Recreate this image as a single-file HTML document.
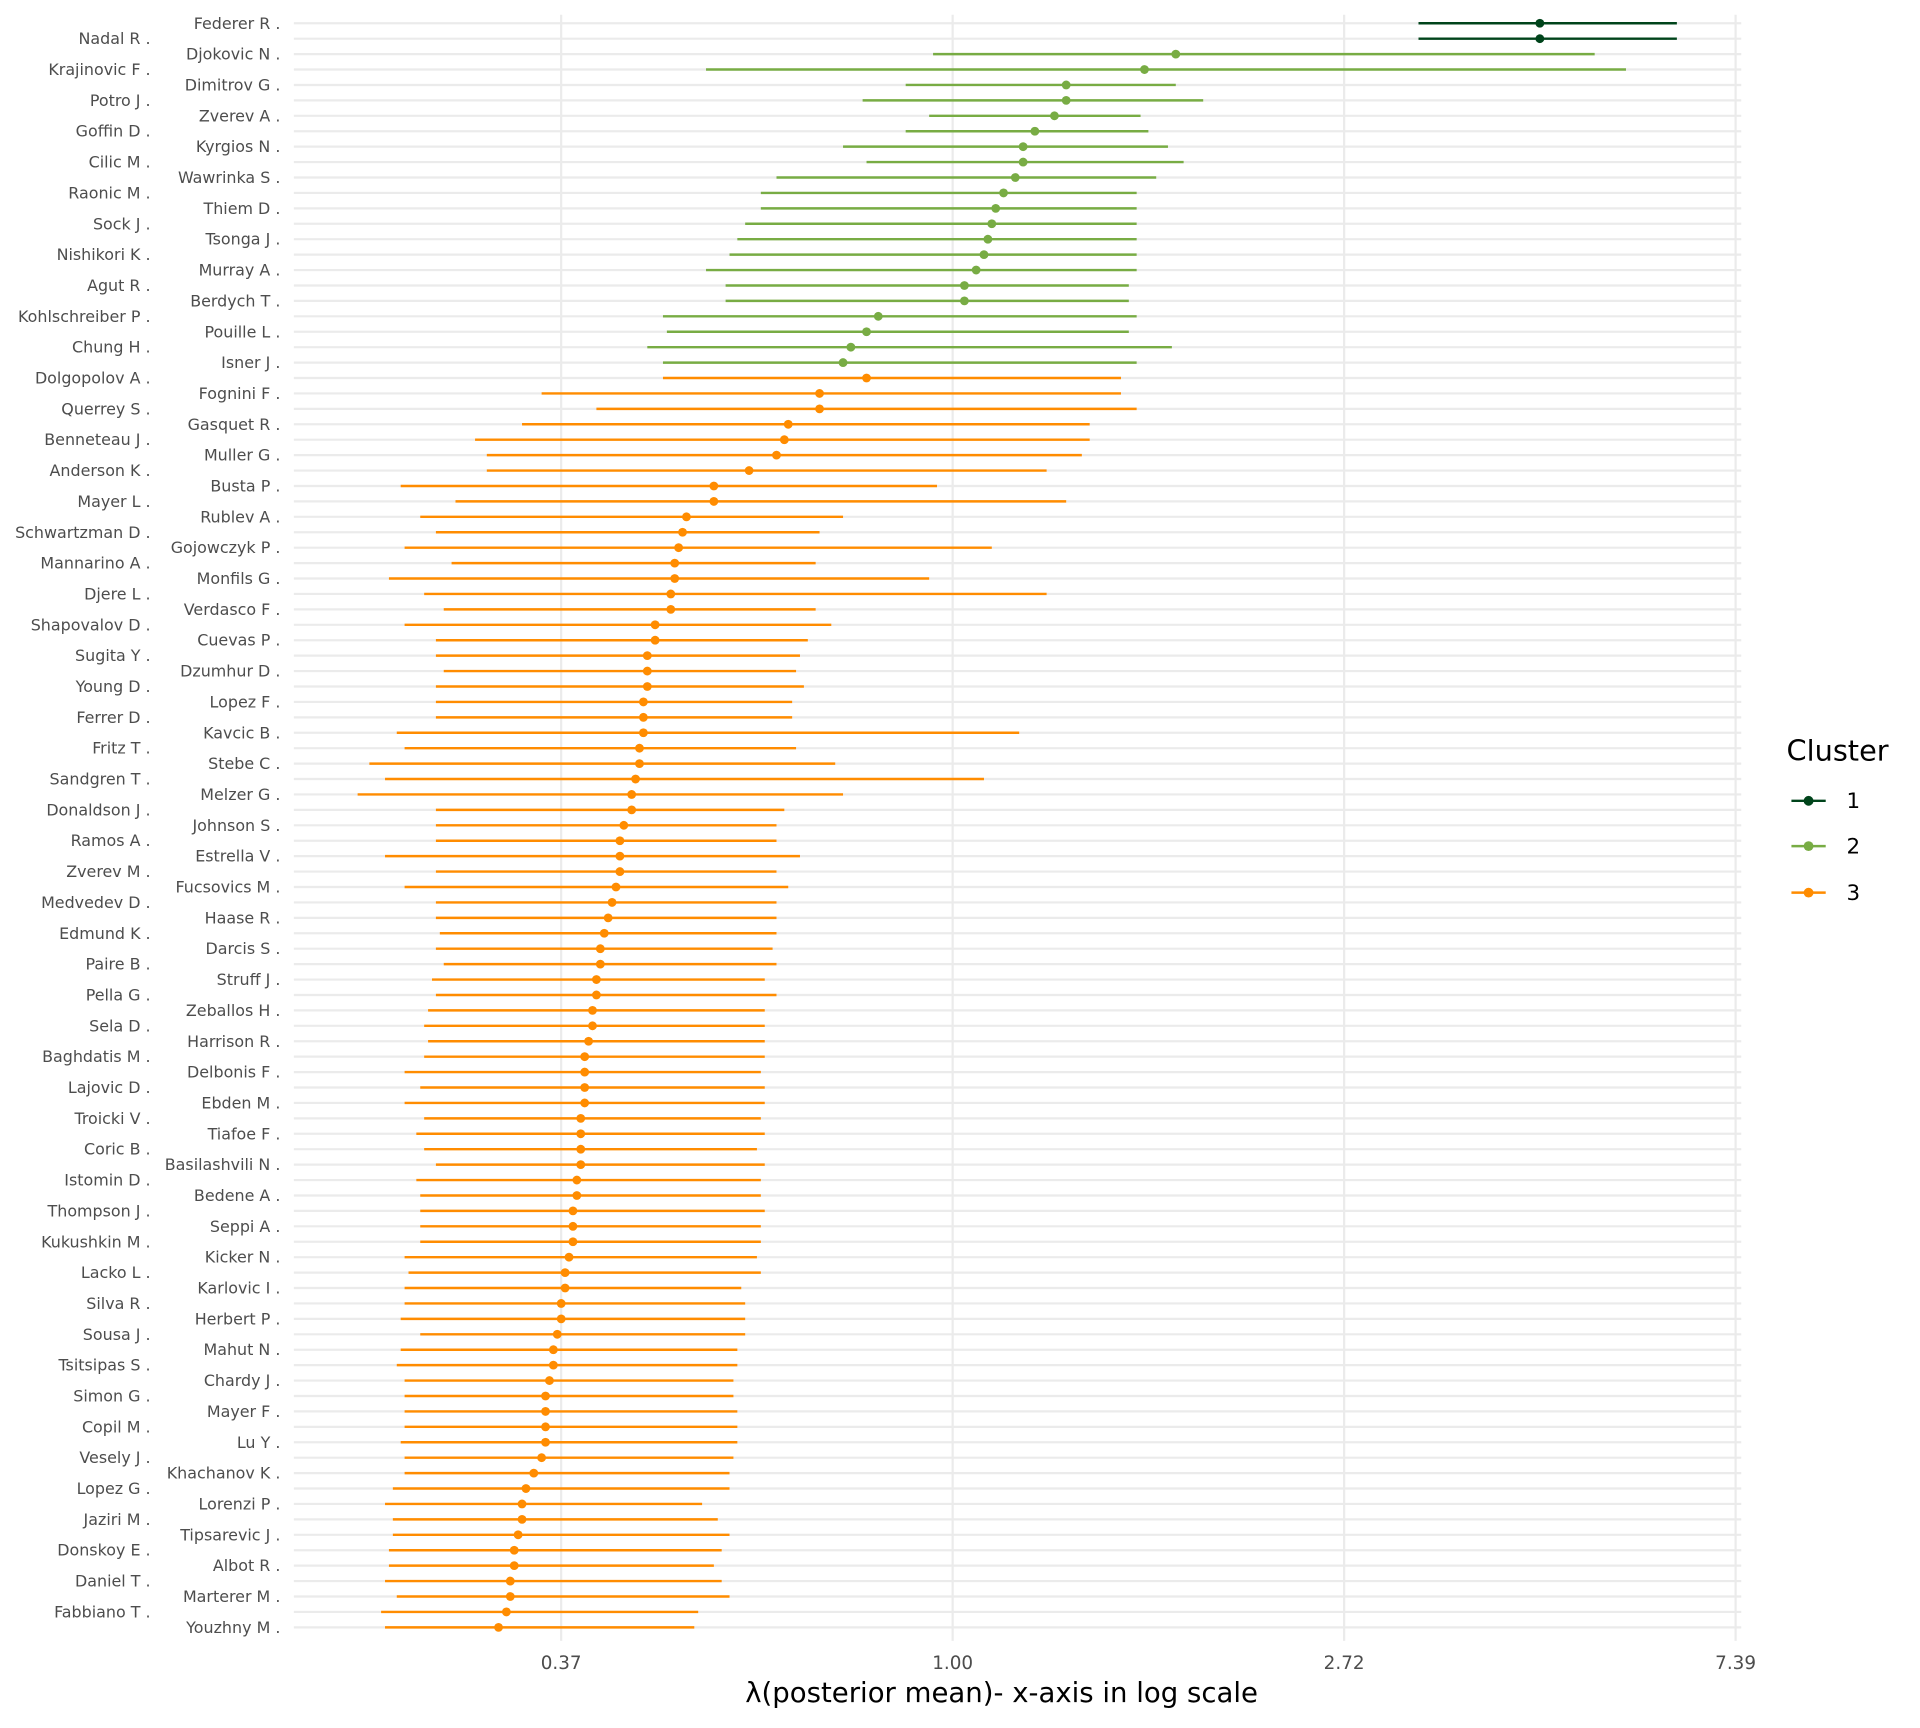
<!DOCTYPE html>
<html><head><meta charset="utf-8"><style>
html,body{margin:0;padding:0;background:#fff}
svg{display:block;font-family:"DejaVu Sans","Liberation Sans",sans-serif}
</style></head><body>
<svg id="chart" width="1920" height="1728" viewBox="0 0 1568 1411.2" xmlns="http://www.w3.org/2000/svg">
<g id="grid"></g>
<g id="marks"></g>
<g id="labels"></g>
<g id="ticks"></g>
<text x="818" y="1390" font-size="22.5" text-anchor="middle" fill="#000">λ(posterior mean)- x-axis in log scale</text>
<g>
<text x="1459" y="621" font-size="23.5" fill="#000">Cluster</text>
<g><line x1="1463" y1="654" x2="1491" y2="654" stroke="#00441b" stroke-width="2"/><circle cx="1477" cy="654" r="4" fill="#00441b"/><text x="1508" y="660" font-size="17.5">1</text></g>
<g><line x1="1463" y1="691" x2="1491" y2="691" stroke="#78ac44" stroke-width="2"/><circle cx="1477" cy="691" r="4" fill="#78ac44"/><text x="1508" y="697" font-size="17.5">2</text></g>
<g><line x1="1463" y1="729" x2="1491" y2="729" stroke="#ff8c00" stroke-width="2"/><circle cx="1477" cy="729" r="4" fill="#ff8c00"/><text x="1508" y="735" font-size="17.5">3</text></g>
</g>
</svg>
<script>
const players = ["Federer R","Nadal R","Djokovic N","Krajinovic F","Dimitrov G","Potro J","Zverev A","Goffin D","Kyrgios N","Cilic M","Wawrinka S","Raonic M","Thiem D","Sock J","Tsonga J","Nishikori K","Murray A","Agut R","Berdych T","Kohlschreiber P","Pouille L","Chung H","Isner J","Dolgopolov A","Fognini F","Querrey S","Gasquet R","Benneteau J","Muller G","Anderson K","Busta P","Mayer L","Rublev A","Schwartzman D","Gojowczyk P","Mannarino A","Monfils G","Djere L","Verdasco F","Shapovalov D","Cuevas P","Sugita Y","Dzumhur D","Young D","Lopez F","Ferrer D","Kavcic B","Fritz T","Stebe C","Sandgren T","Melzer G","Donaldson J","Johnson S","Ramos A","Estrella V","Zverev M","Fucsovics M","Medvedev D","Haase R","Edmund K","Darcis S","Paire B","Struff J","Pella G","Zeballos H","Sela D","Harrison R","Baghdatis M","Delbonis F","Lajovic D","Ebden M","Troicki V","Tiafoe F","Coric B","Basilashvili N","Istomin D","Bedene A","Thompson J","Seppi A","Kukushkin M","Kicker N","Lacko L","Karlovic I","Silva R","Herbert P","Sousa J","Mahut N","Tsitsipas S","Chardy J","Simon G","Mayer F","Copil M","Lu Y","Vesely J","Khachanov K","Lopez G","Lorenzi P","Jaziri M","Tipsarevic J","Donskoy E","Albot R","Daniel T","Marterer M","Fabbiano T","Youzhny M"];
const logMean = [1.50,1.50,0.57,0.49,0.29,0.29,0.26,0.21,0.18,0.18,0.16,0.13,0.11,0.10,0.09,0.08,0.06,0.03,0.03,-0.19,-0.22,-0.26,-0.28,-0.22,-0.34,-0.34,-0.42,-0.43,-0.45,-0.52,-0.61,-0.61,-0.68,-0.69,-0.70,-0.71,-0.71,-0.72,-0.72,-0.76,-0.76,-0.78,-0.78,-0.78,-0.79,-0.79,-0.79,-0.80,-0.80,-0.81,-0.82,-0.82,-0.84,-0.85,-0.85,-0.85,-0.86,-0.87,-0.88,-0.89,-0.90,-0.90,-0.91,-0.91,-0.92,-0.92,-0.93,-0.94,-0.94,-0.94,-0.94,-0.95,-0.95,-0.95,-0.95,-0.96,-0.96,-0.97,-0.97,-0.97,-0.98,-0.99,-0.99,-1.00,-1.00,-1.01,-1.02,-1.02,-1.03,-1.04,-1.04,-1.04,-1.04,-1.05,-1.07,-1.09,-1.10,-1.10,-1.11,-1.12,-1.12,-1.13,-1.13,-1.14,-1.16];
const logLo = [1.19,1.19,-0.05,-0.63,-0.12,-0.23,-0.06,-0.12,-0.28,-0.22,-0.45,-0.49,-0.49,-0.53,-0.55,-0.57,-0.63,-0.58,-0.58,-0.74,-0.73,-0.78,-0.74,-0.74,-1.05,-0.91,-1.10,-1.22,-1.19,-1.19,-1.41,-1.27,-1.36,-1.32,-1.40,-1.28,-1.44,-1.35,-1.30,-1.40,-1.32,-1.32,-1.30,-1.32,-1.32,-1.32,-1.42,-1.40,-1.49,-1.45,-1.52,-1.32,-1.32,-1.32,-1.45,-1.32,-1.40,-1.32,-1.32,-1.31,-1.32,-1.30,-1.33,-1.32,-1.34,-1.35,-1.34,-1.35,-1.40,-1.36,-1.40,-1.35,-1.37,-1.35,-1.32,-1.37,-1.36,-1.36,-1.36,-1.36,-1.40,-1.39,-1.40,-1.40,-1.41,-1.36,-1.41,-1.42,-1.40,-1.40,-1.40,-1.40,-1.41,-1.40,-1.40,-1.43,-1.45,-1.43,-1.43,-1.44,-1.44,-1.45,-1.42,-1.46,-1.45];
const logHi = [1.85,1.85,1.64,1.72,0.57,0.64,0.48,0.50,0.55,0.59,0.52,0.47,0.47,0.47,0.47,0.47,0.47,0.45,0.45,0.47,0.45,0.56,0.47,0.43,0.43,0.47,0.35,0.35,0.33,0.24,-0.04,0.29,-0.28,-0.34,0.10,-0.35,-0.06,0.24,-0.35,-0.31,-0.37,-0.39,-0.40,-0.38,-0.41,-0.41,0.17,-0.40,-0.30,0.08,-0.28,-0.43,-0.45,-0.45,-0.39,-0.45,-0.42,-0.45,-0.45,-0.45,-0.46,-0.45,-0.48,-0.45,-0.48,-0.48,-0.48,-0.48,-0.49,-0.48,-0.48,-0.49,-0.48,-0.50,-0.48,-0.49,-0.49,-0.48,-0.49,-0.49,-0.50,-0.49,-0.54,-0.53,-0.53,-0.53,-0.55,-0.55,-0.56,-0.56,-0.55,-0.55,-0.55,-0.56,-0.57,-0.57,-0.64,-0.60,-0.57,-0.59,-0.61,-0.59,-0.57,-0.65,-0.66];
const clusters = [1,1,2,2,2,2,2,2,2,2,2,2,2,2,2,2,2,2,2,2,2,2,2,3,3,3,3,3,3,3,3,3,3,3,3,3,3,3,3,3,3,3,3,3,3,3,3,3,3,3,3,3,3,3,3,3,3,3,3,3,3,3,3,3,3,3,3,3,3,3,3,3,3,3,3,3,3,3,3,3,3,3,3,3,3,3,3,3,3,3,3,3,3,3,3,3,3,3,3,3,3,3,3,3,3];
const tickLogs = [-1,0,1,2];
const tickLabels = ["0.37","1.00","2.72","7.39"];

const NS="http://www.w3.org/2000/svg";
const colors={1:"#00441b",2:"#78ac44",3:"#ff8c00"};
const X0=240,X1=1422,Y0=19,Y1=1329;
function xs(l){return 778+319.7*l;}
function ys(i){return Y0+(Y1-Y0)*i/(players.length-1);}
function mk(tag,attrs,parent){const e=document.createElementNS(NS,tag);for(const k in attrs)e.setAttribute(k,attrs[k]);parent.appendChild(e);return e;}
const grid=document.getElementById('grid'),marks=document.getElementById('marks'),labels=document.getElementById('labels'),ticks=document.getElementById('ticks');
tickLogs.forEach((t,i)=>{
  const g=mk('line',{x1:xs(t),x2:xs(t),y1:12,y2:1340,stroke:'#ebebeb','stroke-width':1.8},grid);
  
  
  const tx=mk('text',{x:xs(t),y:1363,'font-size':15,'text-anchor':'middle',fill:'#4d4d4d'},ticks);
  tx.textContent=tickLabels[i];
  
  
});
players.forEach((p,i)=>{
  const y=ys(i);
  const g=mk('line',{x1:X0,x2:X1,y1:y,y2:y,stroke:'#ebebeb','stroke-width':1.8},grid);
  
  
  const c=colors[clusters[i]];
  const ln=mk('line',{x1:xs(logLo[i]),x2:xs(logHi[i]),y1:y,y2:y,stroke:c,'stroke-width':2},marks);
  
  
  const pt=mk('circle',{cx:xs(logMean[i]),cy:y,r:3.6,fill:c},marks);
  
  
  const t=mk('text',{x:(i%2===0?229:123),y:y+4.5,'font-size':13,'text-anchor':'end',fill:'#4d4d4d'},labels);
  t.textContent=p+' .';
  
  
});
</script>
</body></html>
